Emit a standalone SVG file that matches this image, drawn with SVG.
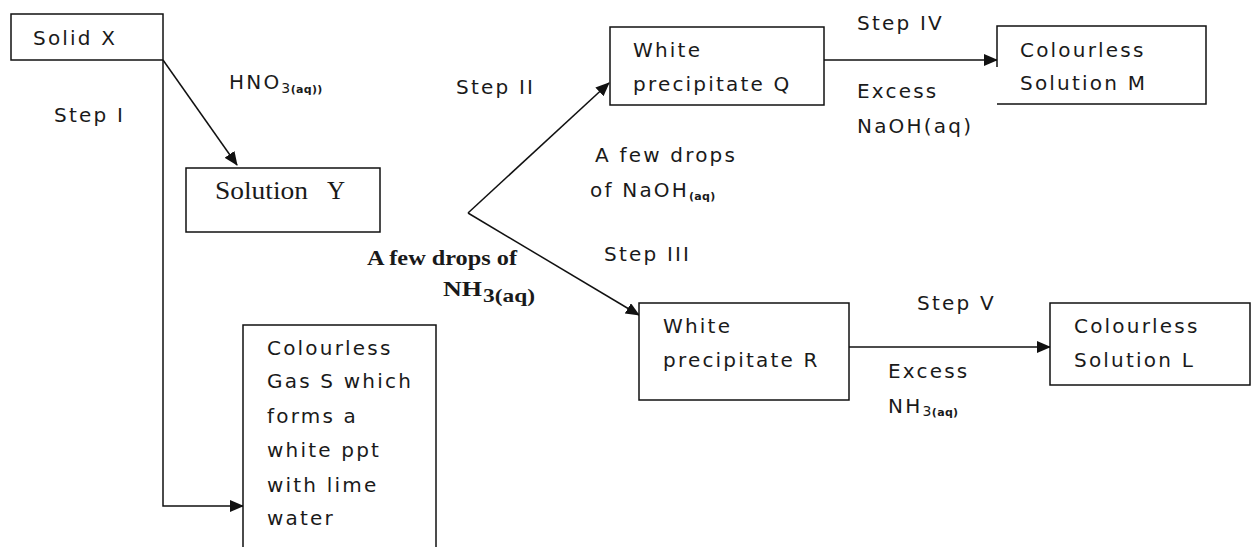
<svg xmlns="http://www.w3.org/2000/svg" width="1253" height="547" viewBox="0 0 1253 547">
<defs>
<marker id="arr" markerUnits="userSpaceOnUse" markerWidth="14" markerHeight="12" viewBox="0 0 14 12" refX="13" refY="6" orient="auto">
<path d="M0,0 L14,6 L0,12 Z" fill="#111"/>
</marker>
<style>
.box{fill:#fff;stroke:#111;stroke-width:1.5}
.ln{fill:none;stroke:#111;stroke-width:1.5}
.t{font-family:"DejaVu Sans","Verdana",sans-serif;font-size:20px;letter-spacing:2.2px;fill:#1a1a1a}
.sub{font-size:14px;letter-spacing:0.5px}
.sb{font-size:11px;font-weight:bold;letter-spacing:0.3px}
.tr{font-family:"Liberation Serif","Times New Roman",serif;fill:#1a1a1a}
.trb{font-family:"Liberation Serif","Times New Roman",serif;font-weight:bold;fill:#1a1a1a}
</style>
</defs>
<rect width="1253" height="547" fill="#fff"/>
<g id="connectors">
<line class="ln" x1="163" y1="60" x2="237" y2="165" marker-end="url(#arr)"/>
<polyline class="ln" points="163,60 163,506 243,506" marker-end="url(#arr)"/>
<line class="ln" x1="468" y1="213" x2="609" y2="83" marker-end="url(#arr)"/>
<line class="ln" x1="468" y1="213" x2="639" y2="315" marker-end="url(#arr)"/>
<line class="ln" x1="824" y1="60" x2="997" y2="60" marker-end="url(#arr)"/>
<line class="ln" x1="849" y1="347" x2="1050" y2="347" marker-end="url(#arr)"/>
</g>
<g id="labels">
<text class="t" x="54" y="122">Step I</text>
<text class="t" x="229" y="89">HNO<tspan class="sub" dy="4">3</tspan><tspan class="sb">(aq))</tspan></text>
<text class="t" x="456" y="94">Step II</text>
<text class="t" x="595" y="162">A few drops</text>
<text class="t" x="590" y="197">of NaOH<tspan class="sb" dy="3">(aq)</tspan></text>
<text class="t" x="604" y="261">Step III</text>
<text class="t" x="857" y="30">Step IV</text>
<text class="t" x="857" y="98">Excess</text>
<text class="t" x="857" y="133">NaOH(aq)</text>
<text class="t" x="917" y="310">Step V</text>
<text class="t" x="888" y="378">Excess</text>
<text class="t" x="888" y="413">NH<tspan class="sub" dy="3">3</tspan><tspan class="sb">(aq)</tspan></text>
<text class="trb" x="367" y="265" font-size="20" textLength="150" lengthAdjust="spacingAndGlyphs">A few drops of</text>
<text class="trb" x="443" y="296" font-size="21"><tspan textLength="39" lengthAdjust="spacingAndGlyphs">NH</tspan><tspan x="483" dy="6" font-size="19" textLength="52" lengthAdjust="spacingAndGlyphs">3(aq)</tspan></text>
</g>
<g id="solid-x">
<rect class="box" x="11" y="14" width="152" height="46"/>
<text class="t" x="33" y="45">Solid X</text>
</g>
<g id="solution-y">
<rect class="box" x="186" y="168" width="194" height="64"/>
<text class="tr" x="215" y="199" font-size="25"><tspan textLength="93" lengthAdjust="spacingAndGlyphs">Solution</tspan><tspan x="327">Y</tspan></text>
</g>
<g id="gas-s">
<rect class="box" x="243" y="325" width="193" height="240"/>
<text class="t" x="267" y="355">Colourless</text>
<text class="t" x="267" y="388">Gas S which</text>
<text class="t" x="267" y="423">forms a</text>
<text class="t" x="267" y="457">white ppt</text>
<text class="t" x="267" y="492">with lime</text>
<text class="t" x="267" y="525">water</text>
</g>
<g id="precipitate-q">
<rect class="box" x="610" y="27" width="214" height="78"/>
<text class="t" x="633" y="57">White</text>
<text class="t" x="633" y="91">precipitate Q</text>
</g>
<g id="solution-m">
<path class="box" d="M997,67 V26 H1206 V104 H997"/>
<text class="t" x="1020" y="57">Colourless</text>
<text class="t" x="1020" y="90">Solution M</text>
</g>
<g id="precipitate-r">
<rect class="box" x="639" y="303" width="210" height="97"/>
<text class="t" x="663" y="333">White</text>
<text class="t" x="663" y="367">precipitate R</text>
</g>
<g id="solution-l">
<rect class="box" x="1050" y="303" width="200" height="82"/>
<text class="t" x="1074" y="333">Colourless</text>
<text class="t" x="1074" y="367">Solution L</text>
</g>
</svg>
